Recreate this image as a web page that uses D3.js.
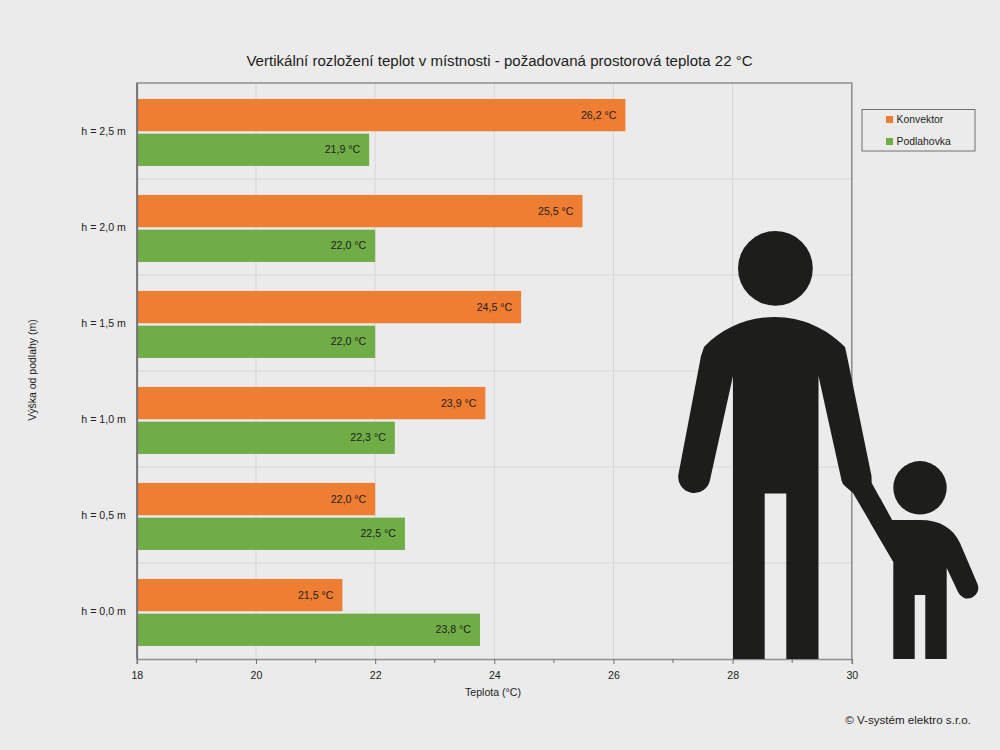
<!DOCTYPE html>
<html><head><meta charset="utf-8">
<script src="https://cdn.jsdelivr.net/npm/d3@7"></script>
<style>
html,body{margin:0;padding:0;background:#ebebeb;}
svg{display:block;font-family:"Liberation Sans",Arial,sans-serif;}
</style></head><body><svg id="c" width="1000" height="750"></svg>
<script>
const categories=["h = 2,5 m","h = 2,0 m","h = 1,5 m","h = 1,0 m","h = 0,5 m","h = 0,0 m"];
const konvektor=[26.2,25.48,24.45,23.85,22.0,21.45];
const podlahovka=[21.9,22.0,22.0,22.33,22.5,23.76];
const konvektorLabels=["26,2 °C","25,5 °C","24,5 °C","23,9 °C","22,0 °C","21,5 °C"];
const podlahovkaLabels=["21,9 °C","22,0 °C","22,0 °C","22,3 °C","22,5 °C","23,8 °C"];
const seriesNames=["Konvektor","Podlahovka"];
const seriesColors=["#ef7d32","#70ad47"];
const xTicks=[18,20,22,24,26,28,30];
const xMinor=[19,21,23,25,27,29];

const L=136.8,R=851.8,T=83,B=659;
const svg=d3.select("#c");
const x=d3.scaleLinear().domain([18,30]).range([L,R]);
const y=d3.scaleBand().domain(categories).range([T,B]);
const inner=d3.scaleBand().domain(seriesNames).range([0,y.bandwidth()]).paddingInner(0.07).paddingOuter(0.418).align(0.55);

// grid
svg.append("g").selectAll("line").data(xTicks.slice(1,-1)).join("line")
 .attr("x1",d=>x(d)).attr("x2",d=>x(d)).attr("y1",T).attr("y2",B)
 .attr("stroke","#d6d6d6").attr("stroke-width",1);
svg.append("g").selectAll("line").data(categories.slice(1)).join("line")
 .attr("x1",L).attr("x2",R).attr("y1",d=>y(d)).attr("y2",d=>y(d))
 .attr("stroke","#dedede").attr("stroke-width",1.5);

// bars
const rows=categories.map((c,i)=>({c,vals:[konvektor[i],podlahovka[i]],labs:[konvektorLabels[i],podlahovkaLabels[i]]}));
const g=svg.append("g").selectAll("g").data(rows).join("g").attr("transform",d=>`translate(0,${y(d.c)})`);
seriesNames.forEach((s,k)=>{
  g.append("rect").attr("x",L).attr("y",inner(s)).attr("height",inner.bandwidth())
   .attr("width",d=>x(d.vals[k])-L).attr("fill",seriesColors[k]);
  g.append("text").attr("x",d=>x(d.vals[k])-9).attr("y",inner(s)+inner.bandwidth()/2+3.5)
   .attr("text-anchor","end").attr("font-size",10.6).attr("fill","#1d1d1b").text(d=>d.labs[k]);
});

// frame
svg.append("path").attr("d",`M${L},${B}V${T}H${R}V${B}`).attr("fill","none").attr("stroke","#8f8f8f").attr("stroke-width",1.6);

// axes
const ax=svg.append("g").attr("transform",`translate(0,${B})`)
 .call(d3.axisBottom(x).tickValues(xTicks).tickFormat(d3.format("d")).tickSize(5).tickPadding(7));
ax.select(".domain").attr("stroke","#8f8f8f").attr("stroke-width",1.6);
ax.selectAll(".tick line").attr("stroke","#707070");
ax.selectAll("text").attr("font-size",10.6).attr("fill","#1d1d1b").attr("font-family","inherit");
svg.append("g").selectAll("line").data(xMinor).join("line")
 .attr("x1",d=>x(d)).attr("x2",d=>x(d)).attr("y1",B).attr("y2",B+4).attr("stroke","#707070");
const ay=svg.append("g").attr("transform",`translate(${L},1)`)
 .call(d3.axisLeft(y).tickSize(0).tickPadding(11));
ay.select(".domain").attr("stroke","#707070").attr("stroke-width",1.6).attr("transform","translate(0,-1)");
ay.selectAll("text").attr("font-size",10.6).attr("fill","#1d1d1b").attr("font-family","inherit");

// titles
svg.append("text").attr("x",499.5).attr("y",66).attr("text-anchor","middle").attr("font-size",15.05).attr("fill","#1d1d1b")
 .text("Vertikální rozložení teplot v místnosti - požadovaná prostorová teplota 22 °C");
svg.append("text").attr("x",493).attr("y",696).attr("text-anchor","middle").attr("font-size",10.6).attr("fill","#1d1d1b").text("Teplota (°C)");
svg.append("text").attr("transform","translate(36,370) rotate(-90)").attr("text-anchor","middle").attr("font-size",10.5).attr("fill","#1d1d1b").text("Výška od podlahy (m)");
svg.append("text").attr("x",971).attr("y",724).attr("text-anchor","end").attr("font-size",11.6).attr("fill","#1d1d1b").text("© V-systém elektro s.r.o.");

// legend
const leg=svg.append("g");
leg.append("rect").attr("x",862).attr("y",109.5).attr("width",113).attr("height",41.5).attr("fill","none").attr("stroke","#707070").attr("stroke-width",1);
seriesNames.forEach((s,k)=>{
  leg.append("rect").attr("x",886).attr("y",116+k*22).attr("width",7).attr("height",7).attr("fill",seriesColors[k]);
  leg.append("text").attr("x",896.5).attr("y",123+k*22).attr("font-size",10.4).attr("fill","#1d1d1b").text(s);
});

// silhouettes (decoration)
const ink="#1d1d1b";
const fig=svg.append("g").attr("fill",ink);
fig.append("circle").attr("cx",775.4).attr("cy",268.4).attr("r",37.4);
fig.append("path").attr("d","M704,347 C722,328 748,317 775,317 C802,317 826,328 845,347 L847,356 L871.5,476 L871.7,483 L891.7,519.3 L893.3,561.7 L853,493 L846,487 Q842,484 841.7,481 L818.5,376 V659 H786.3 V493.5 H764.7 V659 H733 V376 L710,480 A16,16 0 0 1 678.5,474 L701,356 Z");
fig.append("circle").attr("cx",920).attr("cy",487.8).attr("r",26.7);
fig.append("path").attr("d","M880,498 L891.7,520 H920 C940,520 953,528 960,543 L977.5,584 A10.5,10.5 0 0 1 958,592 L946.7,568 V659 H925.3 V595 H914.7 V659 H893.3 V561.7 L870,522 Z");
</script></body></html>
